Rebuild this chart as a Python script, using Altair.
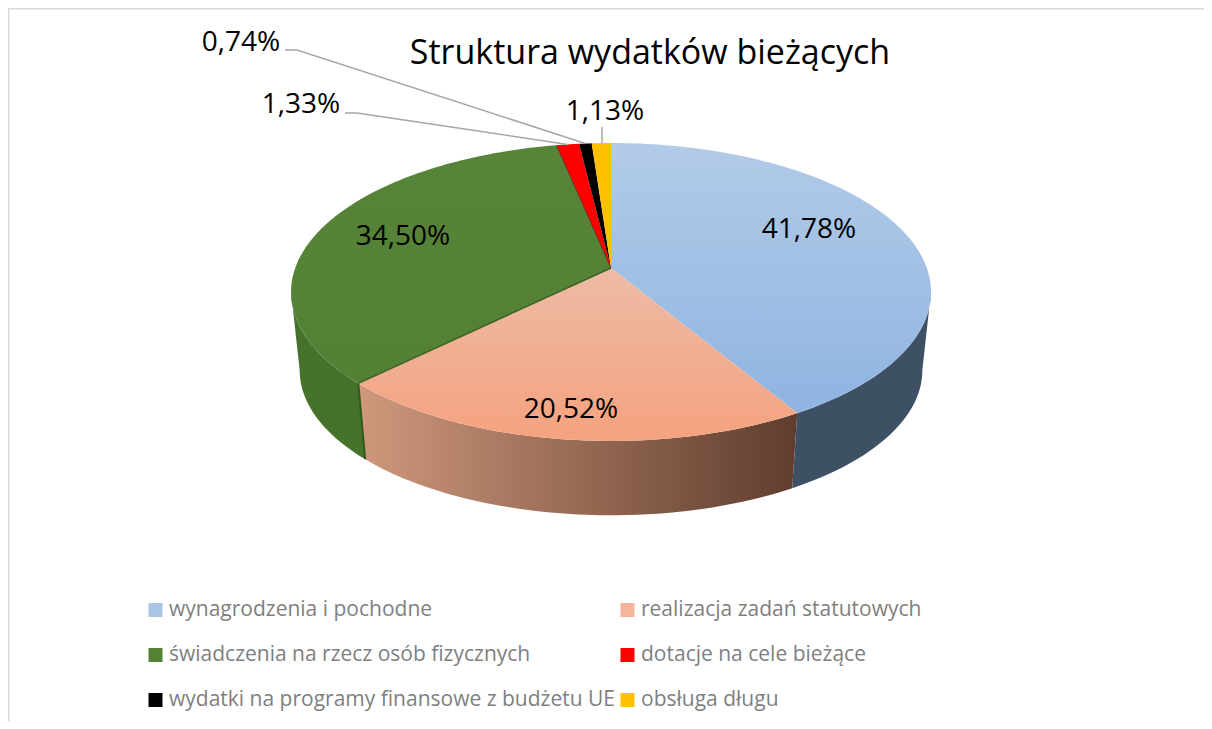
import math
import altair as alt
import pandas as pd

# ---- data -------------------------------------------------------------
categories = ["wynagrodzenia i pochodne", "realizacja zadań statutowych",
              "świadczenia na rzecz osób fizycznych", "dotacje na cele bieżące",
              "wydatki na programy finansowe z budżetu UE", "obsługa długu"]
shares = [41.78, 20.52, 34.50, 1.33, 0.74, 1.13]
legend_colors = ["#A9C6E7", "#F4B69B", "#548235", "#FF0000", "#000000", "#FFC000"]
share_labels = ["41,78%", "20,52%", "34,50%", "1,33%", "0,74%", "1,13%"]
title_text = "Struktura wydatków bieżących"

# ---- pie projection (page pixels) --------------------------------------
OFF = 8
CX, CY = 611 - OFF, 268 - OFF
A, B, K = 315.8, 145.1, 0.161
SHRINK, DEPTH = 0.973, 79
WARP = 0.022


def rim(frac, low=False):
    t = 2 * math.pi * frac
    t = t + WARP * math.sin(2 * t) * max(0.0, -math.cos(t))
    u, v = math.sin(t), -math.cos(t)
    d = 1 - K * v
    x, y = A * u / d, B * v / d
    if low:
        return [CX + SHRINK * x, CY + SHRINK * y + DEPTH]
    return [CX + x, CY + y]


def arc(f0, f1, low=False):
    n = max(4, int((f1 - f0) * 240))
    return [rim(f0 + (f1 - f0) * i / n, low) for i in range(n + 1)]


edges = [0.0]
for s in shares:
    edges.append(edges[-1] + s / 100)

# the fractions where the rim is widest: only the wall between them shows
RIGHT_EXT = math.acos(-K) / (2 * math.pi)
LEFT_EXT = 1 - RIGHT_EXT


def poly(ring):
    ring = ring + [ring[0]]
    return {"type": "Feature", "properties": {},
            "geometry": {"type": "Polygon", "coordinates": [ring]}}


def path(points):
    return {"type": "Feature", "properties": {},
            "geometry": {"type": "LineString", "coordinates": points}}


def grad(horizontal, *stops):
    return alt.Gradient(gradient="linear", x1=0, y1=0,
                        x2=1 if horizontal else 0, y2=0 if horizontal else 1,
                        stops=[alt.GradientStop(offset=o, color=c) for o, c in stops])


top_fill = [grad(False, (0, "#B2CBE8"), (1, "#8FB4E1")),
            grad(False, (0, "#EDBBA5"), (1, "#F5A27F")),
            grad(False, (0, "#58843A"), (1, "#538032")),
            "#FF0000", "#000000", "#FFC000"]
wall_fill = ["#3E5064",
             grad(True, (0, "#CF987C"), (1, "#5F3D2E")),
             "#47722B",
             "#990000", "#000000", "#997300"]

PROJ = dict(type="identity", scale=1, translate=[0, 0])


def shape(feature, **kw):
    return alt.Chart(alt.Data(values=[feature])).mark_geoshape(**kw).project(**PROJ)


layers = []

# legend carrier: Vega fills the columns downwards, so the domain runs column by column
legend_order = [0, 2, 4, 1, 3, 5]
legend_df = pd.DataFrame({"category": categories})
layers.append(
    alt.Chart(legend_df).mark_square(opacity=0, size=1).encode(
        x=alt.value(-50), y=alt.value(-50),
        color=alt.Color("category:N",
                        sort=[categories[i] for i in legend_order],
                        scale=alt.Scale(domain=[categories[i] for i in legend_order],
                                        range=[legend_colors[i] for i in legend_order]),
                        legend=alt.Legend(
                            title=None, orient="none", legendX=145 - OFF, legendY=598 - OFF,
                            columns=2, symbolType="square", symbolSize=196,
                            symbolOpacity=1, symbolStrokeWidth=0, labelFont="Open Sans",
                            labelFontSize=21, labelColor="#7F7F7F", labelLimit=600,
                            rowPadding=21, columnPadding=2, symbolOffset=0,
                            labelOffset=3, clipHeight=24)))
)

# side walls
for i in [0, 2, 1]:
    f0, f1 = max(edges[i], RIGHT_EXT), min(edges[i + 1], LEFT_EXT)
    ring = arc(f0, f1) + arc(f0, f1, True)[::-1]
    layers.append(shape(poly(ring), fill=wall_fill[i], stroke=None))

# dark seam where green meets salmon on the wall
layers.append(shape(path([rim(edges[2]), rim(edges[2], True)]), filled=False,
                    stroke="#2F5A1C", strokeWidth=2))

# top faces
for i in range(6):
    ring = [[CX, CY]] + arc(edges[i], edges[i + 1])
    layers.append(shape(poly(ring), fill=top_fill[i], stroke=None))

layers.append(shape(path([[CX, CY], rim(edges[2])]), filled=False,
                    stroke="#3A6324", strokeWidth=1.5))
layers.append(shape(path([[CX, CY], rim(edges[3])]), filled=False,
                    stroke="#6E2A1A", strokeWidth=1))

# leader lines from the labels to the mid-point of their slices
mid = [(edges[i] + edges[i + 1]) / 2 for i in range(6)]
leader_starts = {3: [[345 - OFF, 113 - OFF], [357 - OFF, 113 - OFF]],
                 4: [[285 - OFF, 50 - OFF], [297 - OFF, 50 - OFF]],
                 5: [[602 - OFF, 127 - OFF]]}
for i, start in leader_starts.items():
    end = rim(mid[i])
    if i == 5:
        end = [start[0][0], end[1]]
    layers.append(shape(path(start + [end]), filled=False,
                        stroke="#A6A6A6", strokeWidth=1.5))

# text
label_pos = [(809, 230), (571, 410), (403, 237), (301, 105), (241, 43), (605, 112)]
label_df = pd.DataFrame({"text": share_labels,
                         "px": [p[0] - OFF for p in label_pos],
                         "py": [p[1] - OFF for p in label_pos]})
layers.append(
    alt.Chart(label_df).mark_text(font="Open Sans", fontSize=28, color="#000000",
                                  align="center", baseline="middle").encode(
        x=alt.X("px:Q", scale=None), y=alt.Y("py:Q", scale=None), text="text:N")
)
title_df = pd.DataFrame({"text": [title_text], "px": [650 - OFF], "py": [54 - OFF]})
layers.append(
    alt.Chart(title_df).mark_text(font="Open Sans", fontSize=34, color="#000000",
                                  align="center", baseline="middle").encode(
        x=alt.X("px:Q", scale=None), y=alt.Y("py:Q", scale=None), text="text:N")
)

# chart frame
frame_df = pd.DataFrame({"a": [0]})
layers.append(alt.Chart(frame_df).mark_rule(color="#D9D9D9", strokeWidth=2).encode(
    x=alt.value(0), x2=alt.value(1196), y=alt.value(0.5)))
layers.append(alt.Chart(frame_df).mark_rule(color="#D9D9D9", strokeWidth=2).encode(
    x=alt.value(0.5), y=alt.value(0), y2=alt.value(713)))

chart = alt.layer(*layers).properties(
    width=1196, height=713, padding=0, background="#FFFFFF",
    autosize=alt.AutoSizeParams(type="none"),
).configure_view(stroke=None)

chart.save("out.html", embed_options={"renderer": "svg", "actions": False})
